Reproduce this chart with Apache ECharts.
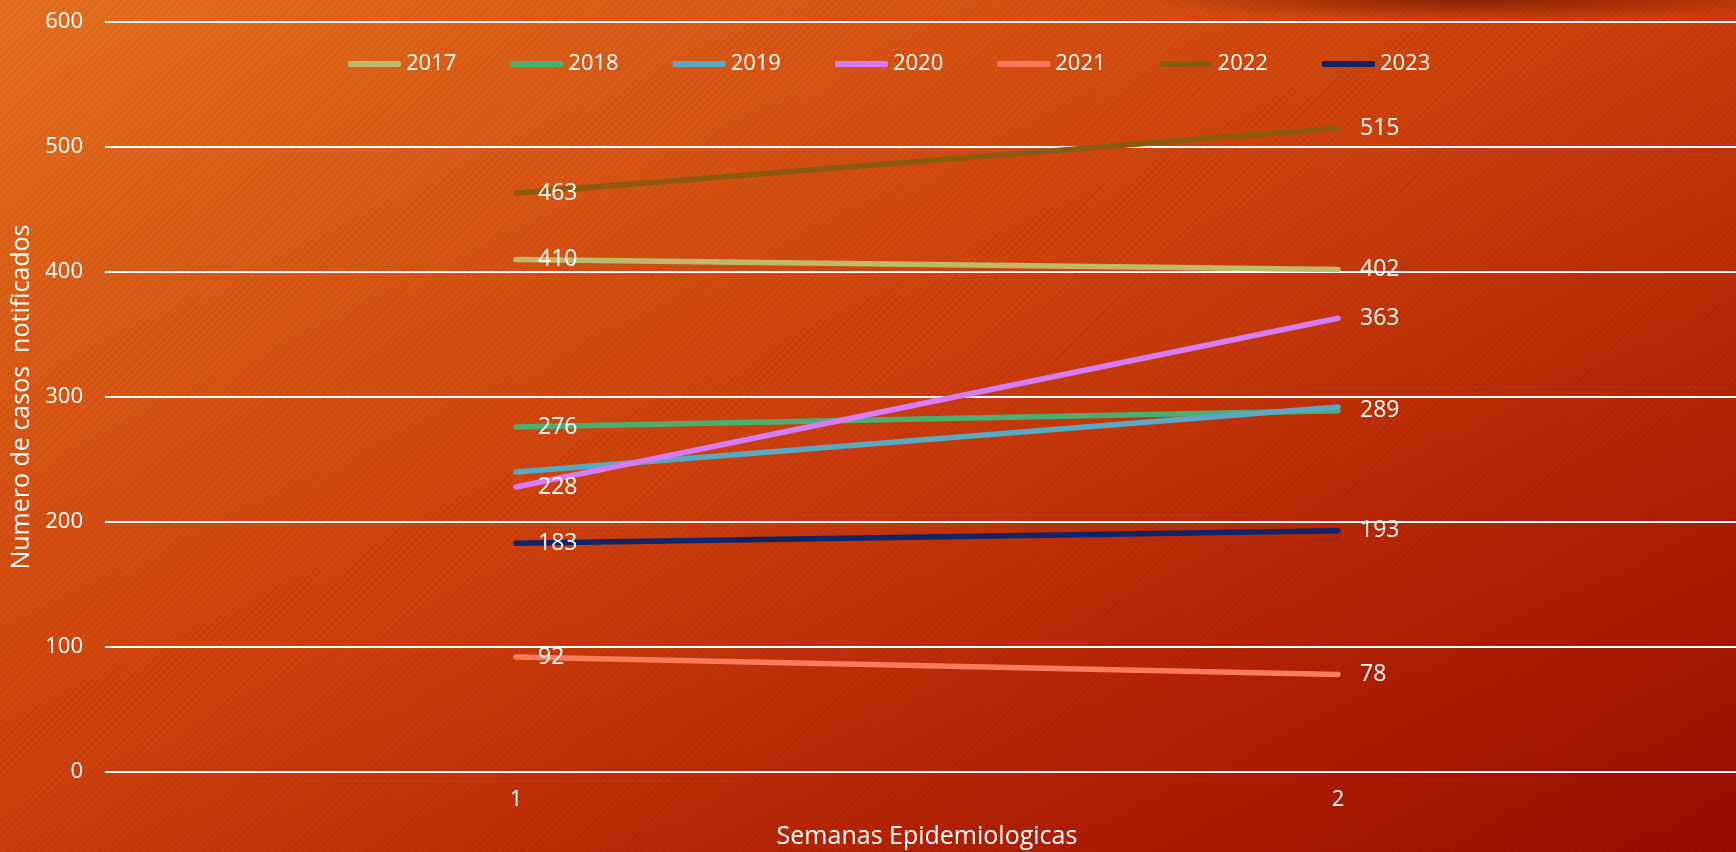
<!DOCTYPE html>
<html>
<head>
    <title>Casos notificados por semana epidemiologica</title>
    <meta charset="utf-8" />
    <script src="https://cdn.jsdelivr.net/npm/echarts@6/dist/echarts.min.js"></script>
    <style type="text/css">
        html,
        body {
            width: 100%;
            height: 100%;
            margin: 0;
        }

        #chart {
            width: 1736px;
            height: 852px;
            background:
                radial-gradient(ellipse 330px 20px at 1470px 0px, rgba(90, 12, 0, 0.6), rgba(90, 12, 0, 0)),
                repeating-linear-gradient(135deg, rgba(0, 0, 0, 0.045) 0px, rgba(0, 0, 0, 0.045) 2px, rgba(0, 0, 0, 0) 2px, rgba(0, 0, 0, 0) 5px),
                linear-gradient(to bottom right, #e6711f 0%, #cf420c 45%, #b42204 75%, #990c00 100%);
        }
    </style>
</head>

<body>
    <div id="chart"></div>
    <script>
        // datos
        var semanas = ['1', '2'];
        var anios = ['2017', '2018', '2019', '2020', '2021', '2022', '2023'];
        var casos2017 = [410, 402];
        var casos2018 = [276, 289];
        var casos2019 = [240, 292];
        var casos2020 = [228, 363];
        var casos2021 = [92, 78];
        var casos2022 = [463, 515];
        var casos2023 = [183, 193];
        var yTicks = [0, 100, 200, 300, 400, 500, 600];

        var valores = [casos2017, casos2018, casos2019, casos2020, casos2021, casos2022, casos2023];
        var colores = ['#c2b86c', '#4caf72', '#5aa8c4', '#d77cf7', '#fd7b5c', '#8c5a0f', '#10246a'];
        var conEtiqueta = [true, true, false, true, true, true, true];

        var fuente = '"Open Sans", sans-serif';

        var series = [];
        for (var i = 0; i < anios.length; i++) {
            series.push({
                name: anios[i],
                type: 'line',
                data: valores[i],
                symbol: 'circle',
                symbolSize: 0,
                color: colores[i],
                lineStyle: { width: 5.5, cap: 'round', color: colores[i] },
                label: {
                    show: conEtiqueta[i],
                    position: 'right',
                    distance: 22,
                    color: '#ffffff',
                    fontSize: 23,
                    fontFamily: fuente
                },
                emphasis: { disabled: true },
                animation: false
            });
        }

        var myChart = echarts.init(document.getElementById('chart'));
        var option = {
            backgroundColor: 'transparent',
            textStyle: { fontFamily: fuente },
            legend: {
                top: 48,
                left: 343,
                icon: 'roundRect',
                itemWidth: 53,
                itemHeight: 6,
                itemGap: 54,
                textStyle: { color: '#ffffff', fontSize: 22, fontFamily: fuente },
                data: anios
            },
            grid: {
                left: 105,
                right: -13,
                top: 22,
                bottom: 80,
                outerBoundsMode: 'none'
            },
            xAxis: {
                type: 'category',
                data: semanas,
                boundaryGap: true,
                axisLine: { show: false },
                axisTick: { show: false },
                axisLabel: { color: '#ffffff', fontSize: 22, margin: 17, fontFamily: fuente },
                name: 'Semanas Epidemiologicas',
                nameLocation: 'middle',
                nameGap: 52,
                nameTextStyle: { color: '#ffffff', fontSize: 25, fontFamily: fuente }
            },
            yAxis: {
                type: 'value',
                min: yTicks[0],
                max: yTicks[yTicks.length - 1],
                interval: 100,
                axisLine: { show: false },
                axisTick: { show: false },
                axisLabel: { color: '#ffffff', fontSize: 22, margin: 22, fontFamily: fuente },
                splitLine: { lineStyle: { color: '#ffffff', width: 2 } },
                name: 'Numero de casos  notificados',
                nameLocation: 'middle',
                nameGap: 70,
                nameTextStyle: { color: '#ffffff', fontSize: 25, fontFamily: fuente }
            },
            series: series
        };
        myChart.setOption(option);
    </script>
</body>
</html>
